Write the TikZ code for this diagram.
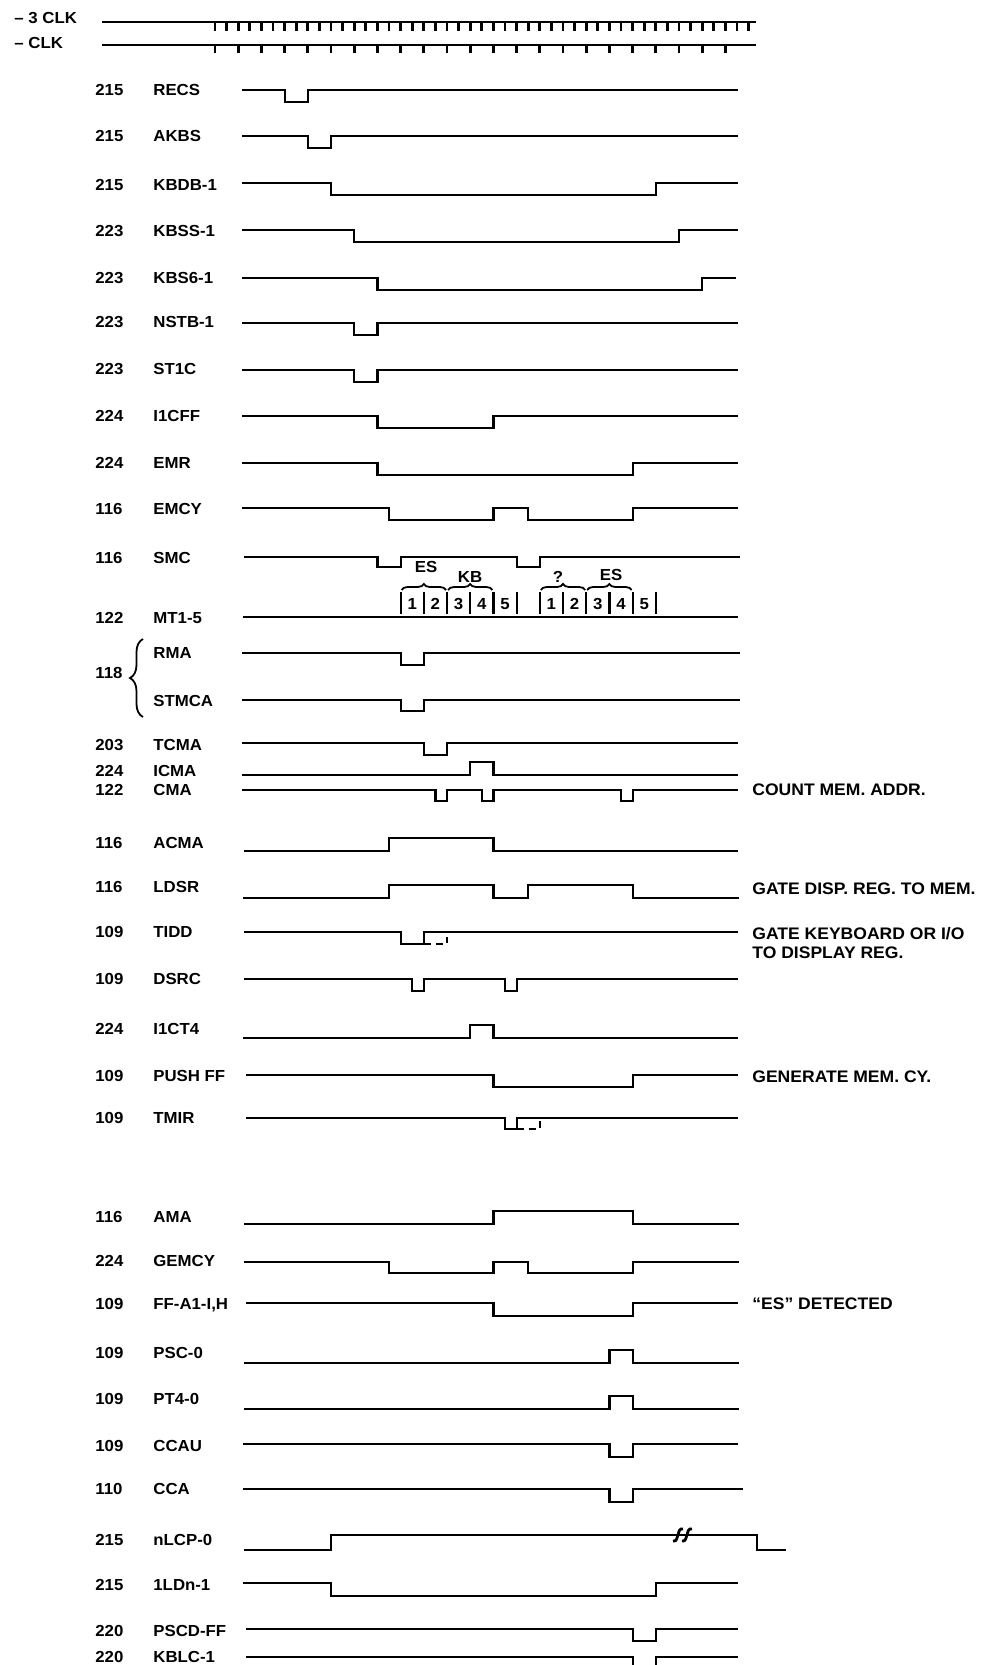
\documentclass[tikz,border=0pt]{standalone}
\usepackage{fontspec}
\setmainfont{Liberation Sans}[FakeStretch=1.05]
\usetikzlibrary{decorations.pathreplacing}
\begin{document}
\begin{tikzpicture}[x=0.5pt,y=-0.5pt,
  declare function={t(\x)=215+23.2*\x;},
  wave/.style={line width=1.1pt, line join=miter, line cap=butt},
  dsh/.style={line width=1.1pt, dash pattern=on 3.5pt off 2.5pt},
  tick/.style={line width=1.4pt},
  txt/.style={anchor=base west, inner sep=0pt, font=\fontsize{8}{9.6}\selectfont\bfseries},
  note/.style={anchor=base west, inner sep=0pt, font=\fontsize{8.35}{10}\selectfont\bfseries},
  ctxt/.style={anchor=base, inner sep=0pt, font=\fontsize{8}{9.6}\selectfont\bfseries},
  br/.style={decorate, decoration={brace, amplitude=3pt}, line width=0.9pt}]
\useasboundingbox (0,0) rectangle (984,1665);

% clocks
\node[txt] (clkthree) at (14,24) {– 3 CLK};
\node[txt] (clkone) at (14,48) {– CLK};
\draw[wave, line width=1.3pt] (102,22) -- (756,22);
\foreach \k in {0,...,46} \draw[tick] ({215+11.6*\k},22) -- ++(0,9);
\draw[wave, line width=1.3pt] (102,45) -- (756,45);
\foreach \k in {0,...,22} \draw[tick] ({t(\k)},45) -- ++(0,8);

% row labels
\foreach \num/\nm/\c/\id in {215/RECS/89/a, 215/AKBS/135/b, 215/KBDB-1/184/c,
  223/KBSS-1/230/d, 223/KBS6-1/277/e, 223/NSTB-1/321/f, 223/ST1C/368/g,
  224/I1CFF/415/h, 224/EMR/462/i, 116/EMCY/508/j, 116/SMC/557/k, 122/MT1-5/617/l,
  203/TCMA/744/m, 224/ICMA/770/n, 122/CMA/789/o, 116/ACMA/842/p, 116/LDSR/886/q,
  109/TIDD/931/r, 109/DSRC/978/s, 224/I1CT4/1028/u, 109/PUSH FF/1075/v, 109/TMIR/1117/w,
  116/AMA/1216/x, 224/GEMCY/1260/y, 109/{FF-A1-I,H}/1303/z, 109/PSC-0/1352/aa,
  109/PT4-0/1398/ab, 109/CCAU/1445/ac, 110/CCA/1488/ad, 215/nLCP-0/1539/ae,
  215/1LDn-1/1584/af, 220/PSCD-FF/1630/ag, 220/KBLC-1/1656/ah}
{
  \node[txt] (num\id) at (95,\c+6) {\num};
  \node[txt] (nm\id) at (153,\c+6) {\nm};
}
\node[txt] (nmrma) at (153,658) {RMA};
\node[txt] (nmstmca) at (153,706) {STMCA};
\node[txt] (num118) at (95,678) {118};
\draw[decorate, decoration={brace, amplitude=6.5pt}, line width=0.9pt] (143,717) -- (143,639);

% right side notes
\node[note] (ncma) at (752,795) {COUNT MEM. ADDR.};
\node[note] (nldsr) at (752,894) {GATE DISP. REG. TO MEM.};
\node[note] (ntidd) at (752,939) {GATE KEYBOARD OR I/O};
\node[note] (ntidd2) at (752,958) {TO DISPLAY REG.};
\node[note] (npush) at (752,1082) {GENERATE MEM. CY.};
\node[note] (nffa) at (752,1309) {“ES” DETECTED};

% waveforms
\draw[wave] (242,90) -- ({t(3)},90) |- ({t(4)},102) |- (738,90);
\draw[wave] (242,136) -- ({t(4)},136) |- ({t(5)},148) |- (738,136);
\draw[wave] (242,183) -- ({t(5)},183) |- ({t(19)},195) |- (738,183);
\draw[wave] (242,230) -- ({t(6)},230) |- ({t(20)},242) |- (738,230);
\draw[wave] (242,278) -- ({t(7)},278) |- ({t(21)},290) |- (736,278);
\draw[wave] (242,323) -- ({t(6)},323) |- ({t(7)},335) |- (738,323);
\draw[wave] (242,370) -- ({t(6)},370) |- ({t(7)},382) |- (738,370);
\draw[wave] (242,416) -- ({t(7)},416) |- ({t(12)},428) |- (738,416);
\draw[wave] (242,463) -- ({t(7)},463) |- ({t(18)},475) |- (738,463);
\draw[wave] (242,508) -- ({t(7.5)},508) |- ({t(12)},520) |- ({t(13.5)},508) |- ({t(18)},520) |- (738,508);
\draw[wave] (244,557) -- ({t(7)},557) |- ({t(8)},567) |- ({t(13)},557) |- ({t(14)},567) |- (740,557);

% MT1-5
\draw[wave] (243,617) -- (738,617);
\foreach \k in {8,...,19} \draw[wave] ({t(\k)},592) -- ({t(\k)},614);
\foreach \k/\d in {8/1,9/2,10/3,11/4,12/5,14/1,15/2,16/3,17/4,18/5}
  \node[ctxt] at ({t(\k+0.5)},609) {\d};
\draw[br] ({t(8)+1},590) -- ({t(10)-1},590);
\draw[br] ({t(10)+1},590) -- ({t(12)-1},590);
\draw[br] ({t(14)+1},590) -- ({t(16)-1},590);
\draw[br] ({t(16)+1},590) -- ({t(18)-1},590);
\node[ctxt] (les) at (426,572) {ES};
\node[ctxt] (lkb) at (470,582) {KB};
\node[ctxt] (lq) at (558,582) {?};
\node[ctxt] (les2) at (611,580) {ES};

\draw[wave] (242,653) -- ({t(8)},653) |- ({t(9)},665) |- (740,653);
\draw[wave] (242,700) -- ({t(8)},700) |- ({t(9)},711) |- (740,700);
\draw[wave] (242,743) -- ({t(9)},743) |- ({t(10)},755) |- (738,743);
\draw[wave] (242,775) -- ({t(11)},775) |- ({t(12)},762) |- (738,775);
\draw[wave] (242,790) -- ({t(9.5)},790) |- ({t(10)},801) |- ({t(11.5)},790) |- ({t(12)},801) |- ({t(17.5)},790) |- ({t(18)},801) |- (738,790);
\draw[wave] (244,851) -- ({t(7.5)},851) |- ({t(12)},838) |- (738,851);
\draw[wave] (243,898) -- ({t(7.5)},898) |- ({t(12)},885) |- ({t(13.5)},898) |- ({t(18)},885) |- (739,898);
\draw[wave] (244,932) -- ({t(8)},932) |- ({t(9)},944) |- (738,932);
\draw[dsh] ({t(9)},944) -- ({t(10)},944) -- ({t(10)},937);
\draw[wave] (244,979) -- ({t(8.5)},979) |- ({t(9)},991) |- ({t(12.5)},979) |- ({t(13)},991) |- (738,979);
\draw[wave] (243,1038) -- ({t(11)},1038) |- ({t(12)},1025) |- (738,1038);
\draw[wave] (246,1075) -- ({t(12)},1075) |- ({t(18)},1087) |- (738,1075);
\draw[wave] (246,1118) -- ({t(12.5)},1118) |- ({t(13)},1129) |- (738,1118);
\draw[dsh] ({t(13)},1129) -- ({t(14)},1129) -- ({t(14)},1121);
\draw[wave] (244,1224) -- ({t(12)},1224) |- ({t(18)},1211) |- (739,1224);
\draw[wave] (244,1262) -- ({t(7.5)},1262) |- ({t(12)},1273) |- ({t(13.5)},1262) |- ({t(18)},1273) |- (739,1262);
\draw[wave] (246,1303) -- ({t(12)},1303) |- ({t(18)},1316) |- (738,1303);
\draw[wave] (244,1363) -- ({t(17)},1363) |- ({t(18)},1350) |- (739,1363);
\draw[wave] (244,1409) -- ({t(17)},1409) |- ({t(18)},1396) |- (739,1409);
\draw[wave] (243,1444) -- ({t(17)},1444) |- ({t(18)},1457) |- (738,1444);
\draw[wave] (243,1489) -- ({t(17)},1489) |- ({t(18)},1502) |- (743,1489);
\draw[wave] (244,1550) -- ({t(5)},1550) |- (757,1535) |- (786,1550);
\draw[wave, line width=1.4pt] (673,1541) .. controls (677,1542) and (677,1537) .. (678,1535) .. controls (679,1532) and (679,1528) .. (683,1529);
\draw[wave, line width=1.4pt] (682,1541) .. controls (686,1542) and (686,1537) .. (687,1535) .. controls (688,1532) and (688,1528) .. (692,1529);
\draw[wave] (243,1583) -- ({t(5)},1583) |- ({t(19)},1596) |- (738,1583);
\draw[wave] (246,1629) -- ({t(18)},1629) |- ({t(19)},1641) |- (738,1629);
\draw[wave] (246,1657) -- ({t(18)},1657) |- ({t(19)},1672) |- (738,1657);
\end{tikzpicture}
\end{document}
